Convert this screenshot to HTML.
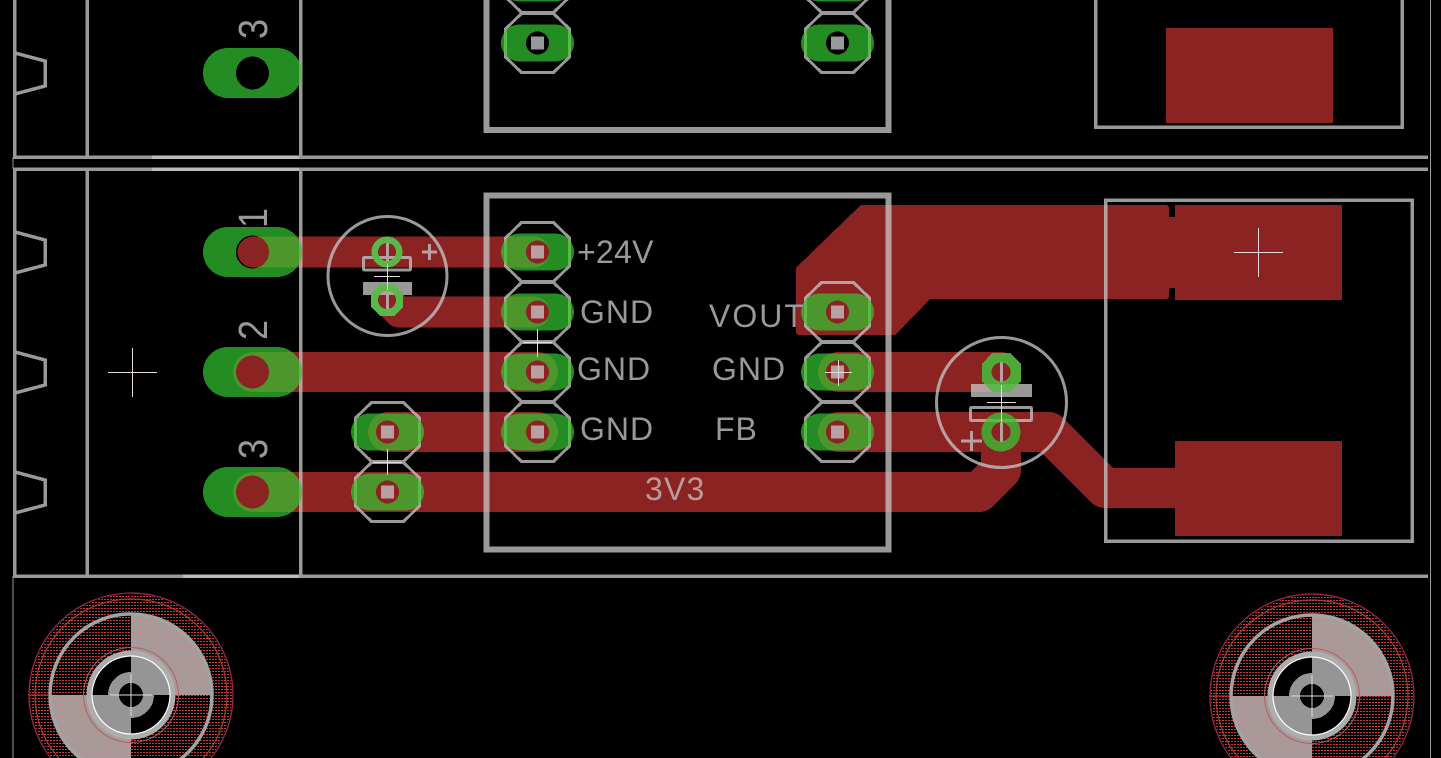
<!DOCTYPE html>
<html><head><meta charset="utf-8"><style>
html,body{margin:0;padding:0;background:#000;width:1441px;height:758px;overflow:hidden}
svg{display:block}
text{font-family:"Liberation Sans",sans-serif;font-size:32px;fill:#999;letter-spacing:1px}
</style></head><body>
<svg width="1441" height="758" viewBox="0 0 1441 758" xmlns="http://www.w3.org/2000/svg" shape-rendering="crispEdges">
<defs>
<path id="pa" fill-rule="evenodd" d="M-18,-18.5H18A18.5,18.5 0 0 1 18,18.5H-18A18.5,18.5 0 0 1 -18,-18.5ZM-11.5,0A11.5,11.5 0 1 0 11.5,0A11.5,11.5 0 1 0 -11.5,0Z"/>
<path id="pb" fill-rule="evenodd" d="M-24.5,-25H24.5A25,25 0 0 1 24.5,25H-24.5A25,25 0 0 1 -24.5,-25ZM-16.5,0A16.5,16.5 0 1 0 16.5,0A16.5,16.5 0 1 0 -16.5,0Z"/>
<polygon id="oc" points="-16,-29.5 16,-29.5 32,-14 32,14 16,29.5 -16,29.5 -32,14 -32,-14" fill="none" stroke="currentColor" stroke-width="3"/>
<rect id="sq" x="-6.5" y="-6.5" width="13" height="13"/>

<g id="red" fill="currentColor" stroke="currentColor" stroke-linecap="round" stroke-linejoin="round">
  <g fill="none">
    <path stroke-width="31" d="M253,252H534"/>
    <path stroke-width="31" d="M387,300L399,312H534"/>
    <path stroke-width="40" d="M253,372H538"/>
    <path stroke-width="40" d="M388,432H538"/>
    <path stroke-width="40" d="M253,492H979L1001,470V432"/>
    <path stroke-width="40" d="M838,372H1001"/>
    <path stroke-width="40" d="M838,432H1049L1105,488H1180"/>
  </g>
  <polygon stroke-width="6" points="862,208 1166,208 1166,296 929,296 894,332 799,332 799,269"/>
  <g stroke="none">
    <rect x="1165" y="217" width="15" height="71"/>
    <rect x="1175" y="205" width="167" height="95"/>
    <rect x="1175" y="441" width="167" height="95"/>
    <rect x="1166" y="28" width="167" height="95"/>
  </g>
</g>

<g id="pads" fill="currentColor">
  <use href="#pb" x="252.5" y="73"/><use href="#pb" x="252.5" y="252"/><use href="#pb" x="252.5" y="372"/><use href="#pb" x="252.5" y="492"/>
  <use href="#pa" x="537.5" y="-17"/><use href="#pa" x="837.5" y="-17"/>
  <use href="#pa" x="537.5" y="43"/><use href="#pa" x="837.5" y="43"/>
  <use href="#pa" x="537.5" y="252"/><use href="#pa" x="537.5" y="312"/><use href="#pa" x="537.5" y="372"/><use href="#pa" x="537.5" y="432"/>
  <use href="#pa" x="837.5" y="312"/><use href="#pa" x="837.5" y="372"/><use href="#pa" x="837.5" y="432"/>
  <use href="#pa" x="387.5" y="432"/><use href="#pa" x="387.5" y="492"/>
</g>

<g id="vias" fill-rule="evenodd">
  <path fill="#5ab84a" d="M387,236.500A15.500,15.500 0 1 1 386.900,236.500ZM387,243A9,9 0 1 0 387.100,243Z"/>
  <path fill="#5ab84a" d="M380,284.500H394L403,293.500V307L394,316H380L371,307V293.500ZM387,291A9,9 0 1 0 387.100,291Z"/>
  <path fill="#50a838" d="M992,353H1010L1021,364V381L1010,392H992L982,381V364ZM1001,362.500A9.500,9.500 0 1 0 1001.100,362.500Z"/>
  <path fill="#4c9c30" d="M1001,412.500A19.500,19.500 0 1 1 1000.900,412.500ZM1001,422.500A9.500,9.500 0 1 0 1001.100,422.500Z"/>
</g>

<g id="silk" fill="none" stroke="currentColor" stroke-width="3.500">
  <path d="M14.500,0V157M14.500,169V576M87,0V157M87,169V576M300.500,0V157M300.500,169V576"/>
  <path d="M13,157H1428M13,169H1428M13,576H1428"/>
  <path d="M15,53L45,61V86L15,94M15,232L45,240V265L15,273M15,352L45,360V385L15,393M15,472L45,480V505L15,513"/>
  <rect x="486.500" y="-20" width="402" height="150" stroke-width="6"/>
  <rect x="486.500" y="195.500" width="402" height="354" stroke-width="6"/>
  <rect x="1095.500" y="-20" width="306.500" height="147"/>
  <rect x="1105.500" y="200" width="306.500" height="341"/>
  <circle cx="387.500" cy="276" r="59.500" stroke-width="3" shape-rendering="auto"/>
  <circle cx="1001.500" cy="402.500" r="65" stroke-width="3" shape-rendering="auto"/>
  <g stroke-width="3">
    <use href="#oc" x="537.500" y="-17"/><use href="#oc" x="837.500" y="-17"/>
    <use href="#oc" x="537.500" y="43"/><use href="#oc" x="837.500" y="43"/>
    <use href="#oc" x="537.500" y="252"/><use href="#oc" x="537.500" y="312"/><use href="#oc" x="537.500" y="372"/><use href="#oc" x="537.500" y="432"/>
    <use href="#oc" x="837.500" y="312"/><use href="#oc" x="837.500" y="372"/><use href="#oc" x="837.500" y="432"/>
    <use href="#oc" x="387.500" y="432"/><use href="#oc" x="387.500" y="492"/>
  </g>
  <g fill="currentColor" stroke="none">
    <use href="#sq" x="537.500" y="43"/><use href="#sq" x="837.500" y="43"/>
    <use href="#sq" x="537.500" y="252"/><use href="#sq" x="537.500" y="312"/><use href="#sq" x="537.500" y="372"/><use href="#sq" x="537.500" y="432"/>
    <use href="#sq" x="837.500" y="312"/><use href="#sq" x="837.500" y="372"/><use href="#sq" x="837.500" y="432"/>
    <use href="#sq" x="387.500" y="432"/><use href="#sq" x="387.500" y="492"/>
    <rect x="363" y="282" width="49" height="13"/>
    <rect x="971" y="384" width="61" height="13"/>
  </g>
  <rect x="363.500" y="257.500" width="47" height="12.500" rx="1" stroke-width="3"/>
  <rect x="970.500" y="407.500" width="61" height="13" rx="1" stroke-width="3"/>
  <path stroke-width="3" d="M387.500,238V263M387.500,289V315M1001.500,362V383M1001.500,423V442"/>
  <path stroke-width="3" d="M429.500,244V260M422,252H437M971.500,431V451M961,441H982"/>
</g>

<pattern id="dotR" width="3" height="3" patternUnits="userSpaceOnUse"><rect width="3" height="3" fill="#000"/><rect width="2" height="1" fill="#cc3838"/></pattern>
<pattern id="dotG" width="3" height="3" patternUnits="userSpaceOnUse"><rect width="3" height="3" fill="#a69a9a"/><rect width="1" height="1" fill="#c98a8a"/></pattern>

<g id="mount">
  <circle r="101" fill="url(#dotR)"/>
  <circle r="102" fill="none" stroke="#a0254f" stroke-width="1.200" shape-rendering="auto"/>
  <circle r="96" fill="none" stroke="#a84030" stroke-width="1.200" shape-rendering="auto"/>
  <path fill="url(#dotG)" d="M0,0V-81A81,81 0 0 1 81,0ZM0,0V81A81,81 0 0 1 -81,0Z"/>
  <circle r="81" fill="none" stroke="#a3a3a3" stroke-width="3.500" shape-rendering="auto"/>
  <circle r="47.500" fill="none" stroke="#b06060" stroke-width="1" shape-rendering="auto"/>
  <circle r="39" fill="#000"/>
  <path fill="#959595" d="M0,0V-39A39,39 0 0 1 39,0ZM0,0V39A39,39 0 0 1 -39,0Z"/>
  <path fill="#959595" d="M0,0H-23A23,23 0 0 1 0,-23ZM0,0H23A23,23 0 0 1 0,23Z"/>
  <circle r="12" fill="#000"/>
  <circle r="42" fill="none" stroke="#adadad" stroke-width="5" shape-rendering="auto"/>
  <circle r="39" fill="none" stroke="#fff" stroke-width="1.200" shape-rendering="auto"/>
  <path stroke="#ddd" stroke-width="1" d="M-21,0H21M0,-21V21"/>
  <path stroke="#c04030" stroke-width="1" d="M-103,0H-82"/>
</g>

<mask id="mRed" maskUnits="userSpaceOnUse" x="0" y="0" width="1441" height="758"><use href="#red" color="#fff"/></mask>
<mask id="mPad" maskUnits="userSpaceOnUse" x="0" y="0" width="1441" height="758"><use href="#pads" color="#fff"/><use href="#vias" style="filter:brightness(0) invert(1)"/></mask>
</defs>

<rect width="1441" height="758" fill="#000"/>
<use href="#red" color="#8b2323"/>
<use href="#pads" color="#238c23"/>
<g mask="url(#mRed)"><use href="#pads" color="#4c962c"/></g>
<use href="#vias"/>
<use href="#silk" color="#999"/>
<g mask="url(#mRed)"><use href="#silk" color="#b8a0a0"/></g>
<g mask="url(#mPad)"><use href="#silk" color="#5cb84a"/></g>

<path fill="none" stroke="#bbb" stroke-width="3.500" d="M152,157H299M152,169H299M183,576H299"/>
<path fill="none" stroke="#999" stroke-width="1" d="M13,576V758M13,157V169M1430.500,0V758"/>

<g stroke="#e4dcdc" stroke-width="1" fill="none">
  <path d="M108,372.500H157M132.500,348V397"/>
  <path d="M1234,252.500H1283M1258.500,228V277"/>
  <path d="M523,342.500H552M537.500,329V357"/>
  <path d="M373,462.500H402M387.500,449V475"/>
  <path d="M825,372.500H852M838.500,360V386"/>
  <path d="M374,276.500H400M387.500,264V290"/>
  <path d="M987,402.500H1016M1001.500,385V423"/>
</g>

<use href="#mount" x="131" y="695"/>
<use href="#mount" x="1312" y="696"/>

<text x="577" y="263" style="letter-spacing:.3px">+24V</text>
<text x="580" y="323">GND</text>
<text x="577" y="380">GND</text>
<text x="580" y="440">GND</text>
<text x="709" y="327" style="letter-spacing:2px">VOUT</text>
<text x="712" y="380">GND</text>
<text x="715" y="440">FB</text>
<text x="645" y="500" style="fill:#b89c9c;letter-spacing:1.2px">3V3</text>
<text transform="translate(267,39) rotate(-90) scale(.88,1)" style="font-size:41px;letter-spacing:0">3</text>
<text transform="translate(267,228) rotate(-90) scale(.88,1)" style="font-size:41px;letter-spacing:0">1</text>
<text transform="translate(267,340) rotate(-90) scale(.88,1)" style="font-size:41px;letter-spacing:0">2</text>
<text transform="translate(267,459) rotate(-90) scale(.88,1)" style="font-size:41px;letter-spacing:0">3</text>
</svg>
</body></html>
